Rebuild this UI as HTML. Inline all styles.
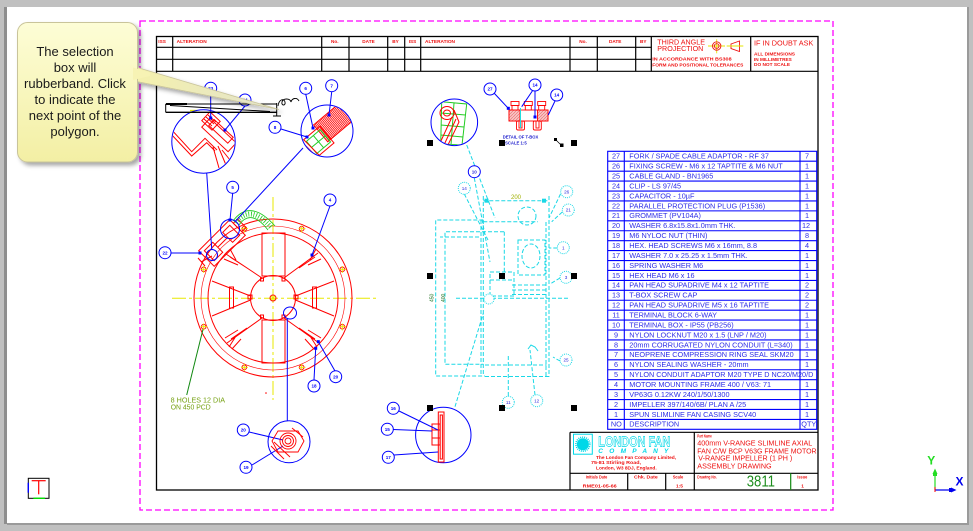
<!DOCTYPE html>
<html><head><meta charset="utf-8"><title>Drawing 3811</title>
<style>
html,body{margin:0;padding:0;background:#c0c0c0}
body{width:973px;height:531px;overflow:hidden}
svg{display:block}
text{font-family:"Liberation Sans",Arial,sans-serif}
</style></head><body>
<svg xmlns="http://www.w3.org/2000/svg" width="973" height="531" viewBox="0 0 973 531">
<defs>
<linearGradient id="tip" x1="0" y1="0" x2="0" y2="1"><stop offset="0" stop-color="#fdfdd6"/><stop offset="1" stop-color="#f3efa4"/></linearGradient>
<linearGradient id="ptr" x1="0" y1="0" x2="1" y2="0"><stop offset="0" stop-color="#f5f1ac"/><stop offset="1" stop-color="#e2e2cc"/></linearGradient>
<filter id="sh" x="-20%" y="-20%" width="140%" height="140%"><feDropShadow dx="3" dy="3" stdDeviation="2" flood-color="#000" flood-opacity="0.35"/></filter>
<clipPath id="c1"><circle cx="203.5" cy="141.5" r="31"/></clipPath>
<clipPath id="c2"><circle cx="327" cy="131" r="25.5"/></clipPath>
<clipPath id="c3"><circle cx="454.3" cy="122.3" r="22.8"/></clipPath>
<pattern id="hr" width="1.6" height="4" patternUnits="userSpaceOnUse"><line x1="0.4" y1="0" x2="0.4" y2="4" stroke="#ff0000" stroke-width="0.9"/></pattern>
<pattern id="pk" width="3" height="3" patternUnits="userSpaceOnUse"><rect width="3" height="3" fill="#f8c4c4"/><line x1="0" y1="3" x2="3" y2="0" stroke="#e86a6a" stroke-width="0.6"/></pattern>
</defs>

<!-- window frame -->
<rect width="973" height="531" fill="#c0c0c0"/>
<rect x="4" y="7" width="3" height="517" fill="#8e8e8e"/>
<rect x="7" y="7" width="960" height="516" fill="#ffffff"/>
<rect x="7" y="523" width="962" height="2" fill="#9a9a9a"/>
<rect x="967" y="7" width="2" height="518" fill="#9a9a9a"/>

<!-- magenta selection frame -->
<rect x="140" y="21" width="693" height="489" fill="none" stroke="#ff00ff" stroke-width="1.3" stroke-dasharray="6,3"/>

<!-- drawing border -->
<rect x="156.5" y="36.5" width="661.5" height="453.5" fill="none" stroke="#000" stroke-width="1.3"/>

<!-- revision table -->
<g stroke="#000" stroke-width="1.2">
<line x1="156" y1="47.3" x2="651.3" y2="47.3"/>
<line x1="156" y1="59.3" x2="651.3" y2="59.3"/>
<line x1="156" y1="71.3" x2="818" y2="71.3"/>
<line x1="172.7" y1="36" x2="172.7" y2="71.3"/>
<line x1="321.7" y1="36" x2="321.7" y2="71.3"/>
<line x1="349" y1="36" x2="349" y2="71.3"/>
<line x1="387.7" y1="36" x2="387.7" y2="71.3"/>
<line x1="404.7" y1="36" x2="404.7" y2="71.3"/>
<line x1="420.7" y1="36" x2="420.7" y2="71.3"/>
<line x1="570" y1="36" x2="570" y2="71.3"/>
<line x1="597.3" y1="36" x2="597.3" y2="71.3"/>
<line x1="635.7" y1="36" x2="635.7" y2="71.3"/>
<line x1="651.3" y1="36" x2="651.3" y2="71.3"/>
<line x1="750.7" y1="36" x2="750.7" y2="71.3"/>
</g>
<g fill="#ee1111" font-size="4.7" font-weight="bold">
<text x="158.3" y="42.8">ISS</text>
<text x="176.7" y="42.8" textLength="30" lengthAdjust="spacingAndGlyphs">ALTERATION</text>
<text x="331" y="42.8">No.</text>
<text x="362.3" y="42.8">DATE</text>
<text x="392.3" y="42.8">BY</text>
<text x="408.7" y="42.8">ISS</text>
<text x="425" y="42.8" textLength="30" lengthAdjust="spacingAndGlyphs">ALTERATION</text>
<text x="579.3" y="42.8">No.</text>
<text x="609" y="42.8">DATE</text>
<text x="640" y="42.8">BY</text>
</g>
<g fill="#ee1111">
<text x="657.3" y="44.3" font-size="7" textLength="47.7" lengthAdjust="spacingAndGlyphs">THIRD ANGLE</text>
<text x="657.3" y="50.8" font-size="7" textLength="46" lengthAdjust="spacingAndGlyphs">PROJECTION</text>
<text x="652.3" y="60.7" font-size="4.6" font-weight="bold" textLength="79.3" lengthAdjust="spacingAndGlyphs">IN ACCORDANCE WITH BS308</text>
<text x="652.3" y="66.7" font-size="4.6" font-weight="bold" textLength="91" lengthAdjust="spacingAndGlyphs">FORM AND POSITIONAL TOLERANCES</text>
<text x="754" y="45.7" font-size="7.2" textLength="59.3" lengthAdjust="spacingAndGlyphs">IF IN DOUBT ASK</text>
<text x="754" y="55.7" font-size="4.6" font-weight="bold" textLength="41" lengthAdjust="spacingAndGlyphs">ALL DIMENSIONS</text>
<text x="754" y="60.9" font-size="4.6" font-weight="bold" textLength="37.7" lengthAdjust="spacingAndGlyphs">IN MILLIMETRES</text>
<text x="754" y="66.2" font-size="4.6" font-weight="bold" textLength="36" lengthAdjust="spacingAndGlyphs">DO NOT SCALE</text>
</g>
<!-- projection symbol -->
<g fill="none">
<line x1="708" y1="46" x2="725" y2="46" stroke="#e6e600" stroke-width="0.9"/>
<line x1="716.7" y1="39.3" x2="716.7" y2="53.3" stroke="#e6e600" stroke-width="0.9"/>
<circle cx="716.7" cy="46" r="4.2" stroke="#ee1111" stroke-width="0.9"/>
<circle cx="716.7" cy="46" r="2.3" stroke="#ee1111" stroke-width="0.9"/>
<path d="M731,44 L739.5,41 L739.5,51.5 L731,48.5 Z" stroke="#ee1111" stroke-width="0.9"/>
<line x1="726.7" y1="46" x2="743.3" y2="46" stroke="#e6e600" stroke-width="0.9"/>
</g>

<!-- ============ LEFT FAN DRAWING ============ -->
<!-- yellow centre lines -->
<g stroke="#e8e800" stroke-width="1" fill="none">
<line x1="172" y1="298.3" x2="376" y2="298.3" stroke-dasharray="14,3,3,3"/>
<line x1="273" y1="197" x2="273" y2="400" stroke-dasharray="14,3,3,3"/>
</g>
<g stroke="#ff0000" stroke-width="1" fill="none">
<circle cx="273" cy="298" r="79"/>
<circle cx="273" cy="298" r="72" stroke-width="0.6"/>
<circle cx="273" cy="298" r="65"/>
<circle cx="273" cy="298" r="22.5"/>
<circle cx="273" cy="298" r="3"/>
<rect x="262" y="233" width="23" height="43"/>
<rect x="262" y="320" width="23" height="43"/>
<rect x="260.5" y="278" width="3" height="3"/>
<rect x="282" y="278" width="3" height="3"/>
<rect x="260.5" y="315" width="3" height="3"/>
<rect x="282" y="315" width="3" height="3"/>
<path d="M250.5,296 L212,281 M250.5,300 L212,316 M295.5,296 L334,281 M295.5,300 L334,316"/>
<rect x="229.5" y="287" width="4" height="21"/>
<rect x="312.5" y="287" width="4" height="21"/>
<rect x="248" y="295" width="4" height="4"/>
<rect x="294" y="295" width="4" height="4"/>
<!-- diagonal struts -->
<path d="M262,318 L227,343 M247,328 L231,339 M238,330 L225,338 M236,336 L229,347 M241,339 L232,349"/>
<path d="M284,318 L319,343 M299,328 L315,339 M308,330 L321,338 M310,336 L317,347 M305,339 L314,349"/>
<path d="M262,278 L226,254 M247,268 L230,257 M238,265 L224,259 M236,260 L230,249"/>
<path d="M284,278 L318,253 M299,268 L315,257 M308,265 L321,259 M310,260 L316,249"/>
<!-- holes -->
<circle cx="244.3" cy="228.7" r="2.3"/><circle cx="301.7" cy="228.7" r="2.3"/>
<circle cx="203.7" cy="269.3" r="2.3"/><circle cx="342.3" cy="269.3" r="2.3"/>
<circle cx="203.7" cy="326.7" r="2.3"/><circle cx="342.3" cy="326.7" r="2.3"/>
<circle cx="244.3" cy="367.3" r="2.3"/><circle cx="301.7" cy="367.3" r="2.3"/>
</g>
<g stroke="#e8e800" stroke-width="0.9">
<path d="M241,228.7h7M244.3,225.5v7M301.7,225.5v7M298.5,228.7h7M200.5,269.3h7M203.7,266v7M339,269.3h7M342.3,266v7M200.5,326.7h7M203.7,323.5v7M339,326.7h7M342.3,323.5v7M241,367.3h7M244.3,364v7M298.5,367.3h7M301.7,364v7"/>
<path d="M271,296l4,4M275,296l-4,4"/>
</g>
<!-- terminal box -->
<g stroke="#ff0000" stroke-width="1" fill="none" transform="rotate(-45 222 243)">
<rect x="200" y="232" width="44" height="22"/>
<rect x="204" y="236" width="12" height="14"/>
<rect x="230" y="236" width="10" height="14"/>
<line x1="216" y1="243" x2="230" y2="243"/>
<rect x="244" y="237" width="6" height="12"/>
</g>
<path d="M198,258 L205,266 M201,262 L212,256" stroke="#ff0000" fill="none"/>
<!-- green conduit -->
<g fill="none" stroke="#22cc22">
<path d="M233,221 Q250,198 275,226" stroke-width="0.9"/>
<path d="M239,225 Q251,208 268,230" stroke-width="0.9"/>
<path d="M236,223 Q250.5,203 271.5,228" stroke-width="5" stroke-dasharray="0.8,1.8"/>
</g>
<!-- left detail circle -->
<g clip-path="url(#c1)" stroke="#ff0000" fill="none" stroke-width="1">
<polyline points="170,128 191.7,151.7 205,138.3 217,150"/>
<polyline points="170,133 191.7,156 206.7,142.7 215,151"/>
<rect x="201" y="129" width="36" height="12" transform="rotate(43 219 135)"/>
<rect x="205" y="127" width="26" height="8" transform="rotate(43 219 135)"/>
<rect x="204" y="115" width="14" height="12" transform="rotate(43 211 121)"/>
<path d="M206,117 l8,7 M208,115 l8,7 M204,119 l8,7"/>
<path d="M213,147 L219,168 M218,146 L226,165 M222,150 L230,160"/>
</g>
<line x1="190" y1="110.5" x2="197" y2="110.5" stroke="#e8e800" stroke-width="1.3"/>
<!-- right detail circle -->
<g clip-path="url(#c2)">
<g transform="rotate(-40 330 132)">
<rect x="322" y="116" width="32" height="22" fill="url(#hr)" stroke="#ff0000"/>
<rect x="300" y="121" width="26" height="22" fill="none" stroke="#ff0000"/>
<rect x="306" y="124" width="18" height="16" fill="none" stroke="#22cc22"/>
<line x1="306" y1="132" x2="324" y2="132" stroke="#22cc22"/>
<line x1="315" y1="124" x2="315" y2="140" stroke="#22cc22"/>
<path d="M290,128 L300,128 M290,136 L300,136 M292,141 L300,141" stroke="#ff0000"/>
</g>
<path d="M300,140 L320,160 M304,140 L322,158" stroke="#ff0000" fill="none"/>
</g>
<!-- blue callouts left -->
<g stroke="#0000ff" fill="none" stroke-width="1">
<circle cx="203.5" cy="141.5" r="31.7"/>
<circle cx="327" cy="131" r="26"/>
<circle cx="230" cy="229" r="9.5"/>
<circle cx="212" cy="255" r="5.5"/>
<circle cx="289" cy="441.7" r="21"/>
<ellipse cx="290" cy="313" rx="6.5" ry="6"/>
<line x1="206.7" y1="173" x2="211.7" y2="249"/>
<line x1="303" y1="148" x2="235" y2="221.7"/>
<line x1="210.7" y1="94" x2="210.7" y2="118"/>
<line x1="245" y1="106" x2="225" y2="130"/>
<line x1="305.7" y1="94" x2="313" y2="128"/>
<line x1="331.7" y1="92" x2="329" y2="115"/>
<line x1="281" y1="129" x2="307" y2="137"/>
<line x1="232.7" y1="193" x2="230" y2="220"/>
<line x1="330" y1="206" x2="312" y2="255"/>
<line x1="171" y1="253" x2="200" y2="253"/>
<line x1="287.3" y1="318" x2="287.3" y2="421"/>
<line x1="335" y1="371" x2="318.3" y2="341.7"/>
<line x1="314" y1="380" x2="315.7" y2="348.3"/>
<line x1="249" y1="432" x2="283" y2="440"/>
<line x1="252" y1="465" x2="283" y2="446"/>
</g>
<g fill="#0000ff">
<rect x="209.2" y="116.5" width="3" height="3"/><rect x="223.5" y="128.5" width="3" height="3"/>
<rect x="311.5" y="126.5" width="3" height="3"/><rect x="327.5" y="113.5" width="3" height="3"/>
<rect x="305.5" y="135.5" width="3" height="3"/><rect x="228.5" y="218.5" width="3" height="3"/>
<rect x="310.5" y="253.5" width="3" height="3"/><rect x="198.5" y="251.5" width="3" height="3"/>
<rect x="316.8" y="340.2" width="3" height="3"/><rect x="314.2" y="346.8" width="3" height="3"/>
</g>
<!-- red hub detail in bottom circle -->
<g stroke="#ff0000" fill="none" stroke-width="0.9">
<circle cx="288" cy="441" r="3"/><circle cx="288" cy="441" r="5.5"/><circle cx="288" cy="441" r="8"/>
<path d="M278,431 L298,431 L304,441 L298,452 L278,452 L272,441 Z"/>
<path d="M271,446 L284,459 M274,442 L290,457 M292,428 L303,437"/>
</g>
<!-- balloons left -->
<g stroke="#0000ff" fill="#fff" stroke-width="1">
<circle cx="210.7" cy="88.3" r="6"/><circle cx="245" cy="100" r="6"/>
<circle cx="305.7" cy="88.3" r="6"/><circle cx="331.7" cy="85.7" r="6"/>
<circle cx="275" cy="127.3" r="6"/><circle cx="232.7" cy="187.3" r="6"/>
<circle cx="330" cy="200" r="6"/><circle cx="165" cy="252.7" r="6"/>
<circle cx="335.7" cy="376.7" r="6"/><circle cx="314" cy="386" r="6"/>
<circle cx="243.3" cy="430" r="6"/><circle cx="246" cy="467.3" r="6"/>
</g>
<g fill="#0000ff" font-size="4.6" text-anchor="middle" font-weight="bold">
<text x="210.7" y="90">23</text><text x="245" y="101.7">24</text>
<text x="305.7" y="90">6</text><text x="331.7" y="87.4">7</text>
<text x="275" y="129">8</text><text x="232.7" y="189">5</text>
<text x="330" y="201.7">4</text><text x="165" y="254.4">22</text>
<text x="335.7" y="378.4">20</text><text x="314" y="387.7">18</text>
<text x="243.3" y="431.7">20</text><text x="246" y="469">19</text>
</g>
<!-- 8 holes note -->
<line x1="186.7" y1="395" x2="203" y2="329.3" stroke="#118811" stroke-width="1"/>
<g fill="#74a010" font-size="7">
<text x="170.7" y="402.7" textLength="54.3" lengthAdjust="spacingAndGlyphs">8 HOLES 12 DIA</text>
<text x="170.7" y="409.5" textLength="40" lengthAdjust="spacingAndGlyphs">ON 450 PCD</text>
</g>
<circle cx="266" cy="393" r="0.8" fill="#ff0000"/>

<!-- rubberband lines -->
<g stroke="#000" fill="none">
<line x1="165.7" y1="104" x2="276.7" y2="104" stroke-width="1"/>
<line x1="166" y1="104" x2="187" y2="104" stroke-width="2"/>
<line x1="165.7" y1="112.3" x2="276.7" y2="112.3" stroke-width="1.4"/>
<line x1="165.7" y1="104" x2="165.7" y2="112.3" stroke-width="1"/>
<line x1="170" y1="105.5" x2="270" y2="111.5" stroke-width="1"/>
<line x1="276.7" y1="103" x2="276.7" y2="116" stroke-width="1"/>
<line x1="273" y1="116" x2="281" y2="116" stroke-width="1"/>
<path d="M278,106 C279,99 284,98 285,102 C286,106 281,106 282,102 C283,98 290,98 291,102 C292,98 297,97 299,101" stroke-width="0.9"/>
</g>

<!-- ============ CENTRE DRAWING ============ -->
<!-- top-left detail circle -->
<g clip-path="url(#c3)" fill="none">
<path d="M441.7,101.7 L466.7,104 L462,145 L440.7,144 Z M441,113 L465.5,115 M440.8,125 L464,127 M440.7,135 L463,137 M454,103 L451,145" stroke="#22cc22"/>
<ellipse cx="447" cy="113" rx="7" ry="6.5" stroke="#ff0000"/>
<ellipse cx="447" cy="113" rx="3.5" ry="3" stroke="#ff0000"/>
<path d="M452,117 L440,143 M456,119 L444,145 M454,110 L459,122 L447,147" stroke="#ff0000"/>
</g>
<circle cx="454.3" cy="122.3" r="23.3" fill="none" stroke="#0000ff"/>
<!-- T-box detail -->
<g stroke="#ff0000" stroke-width="0.9">
<rect x="509" y="110" width="39" height="11" fill="#fff"/>
<rect x="509" y="110" width="11" height="11" fill="url(#pk)"/>
<rect x="537.5" y="110" width="10.5" height="11" fill="url(#pk)"/>
<rect x="511" y="101.5" width="8" height="4" fill="none"/><rect x="512" y="105.5" width="6" height="4.5" fill="none"/>
<rect x="524.3" y="101.5" width="8" height="4" fill="none"/><rect x="525.3" y="105.5" width="6" height="4.5" fill="none"/>
<rect x="537.7" y="101.5" width="8" height="4" fill="none"/><rect x="538.7" y="105.5" width="6" height="4.5" fill="none"/>
<rect x="516.5" y="121" width="8" height="9" rx="1.5" fill="none"/>
<rect x="533.3" y="121" width="8" height="9" rx="1.5" fill="none"/>
<rect x="519" y="121" width="3" height="7" fill="none"/>
<rect x="536" y="121" width="3" height="7" fill="none"/>
</g>
<line x1="520.5" y1="108" x2="520.5" y2="128" stroke="#22dddd"/>
<g stroke="#0000ff" fill="none">
<line x1="494" y1="93" x2="508.3" y2="108.3"/>
<line x1="535" y1="91" x2="535" y2="117"/>
<line x1="533" y1="90" x2="521.7" y2="106.7"/>
<line x1="555" y1="101" x2="548.3" y2="115"/>
</g>
<rect x="533.5" y="115.5" width="3" height="3" fill="#0000ff"/>
<rect x="506.8" y="106.8" width="3" height="3" fill="#0000ff"/>
<g stroke="#0000ff" fill="#fff">
<circle cx="490" cy="89" r="6"/><circle cx="535" cy="85" r="6"/><circle cx="556.7" cy="95" r="6"/>
</g>
<g fill="#0000ff" font-size="4.6" text-anchor="middle" font-weight="bold">
<text x="490" y="90.7">27</text><text x="535" y="86.7">14</text><text x="556.7" y="96.7">14</text>
</g>
<g fill="#1a1acc" font-size="4.8" font-weight="bold">
<text x="502.7" y="138.3" textLength="35.6" lengthAdjust="spacingAndGlyphs">DETAIL OF T-BOX</text>
<text x="505" y="144.3" textLength="21.7" lengthAdjust="spacingAndGlyphs">SCALE 1:5</text>
</g>

<!-- cyan side view -->
<g stroke="#1ad8e6" fill="none" stroke-width="1" stroke-dasharray="4,2">
<line x1="483.3" y1="200.7" x2="549" y2="200.7"/>
<line x1="483.3" y1="196" x2="483.3" y2="376"/>
<line x1="549" y1="196" x2="549" y2="376.7"/>
<line x1="481" y1="220" x2="481" y2="376"/>
<line x1="546" y1="222" x2="546" y2="376"/>
<polyline points="483.3,220 435.7,220 435.7,376 485,376"/>
<polyline points="504,231.7 445,231.7 445,364.3 483.3,364.3"/>
<line x1="504.3" y1="231.7" x2="504.3" y2="275"/>
<line x1="483.3" y1="221.7" x2="538" y2="221.7"/>
<line x1="456" y1="298.3" x2="570" y2="298.3"/>
<line x1="485" y1="365" x2="546.7" y2="365"/>
<line x1="485" y1="376.5" x2="549" y2="376.5"/>
<circle cx="527" cy="216" r="9"/>
<rect x="518" y="240" width="27" height="35"/>
<ellipse cx="531" cy="256" rx="9" ry="12"/>
<rect x="490" y="272" width="24" height="24"/>
<line x1="512" y1="285" x2="546" y2="285"/>
<line x1="512" y1="290" x2="546" y2="290"/>
<line x1="512" y1="294.5" x2="546" y2="294.5"/>
<line x1="490" y1="280" x2="514" y2="280"/>
<line x1="466.7" y1="145" x2="495" y2="218"/>
<line x1="474.3" y1="178" x2="490" y2="262"/>
<line x1="464.3" y1="194" x2="488" y2="240"/>
<line x1="560.5" y1="194" x2="549" y2="218"/>
<line x1="562.3" y1="212" x2="551.7" y2="221.7"/>
<line x1="557.3" y1="248" x2="549" y2="248"/>
<line x1="560" y1="278" x2="550" y2="284"/>
<line x1="560" y1="361" x2="553" y2="357"/>
<line x1="508.3" y1="396" x2="508.3" y2="355"/>
<line x1="535" y1="395" x2="530" y2="350"/>
<line x1="455" y1="406.7" x2="483.3" y2="313.3"/>
<line x1="479" y1="237" x2="440" y2="237"/>
</g>
<path d="M528,349 l3,-4 l4,2 l3,4" stroke="#1ad8e6" fill="none"/>
<rect x="484.5" y="198.7" width="4" height="4" fill="#1ad8e6"/>
<rect x="542" y="198.7" width="4" height="4" fill="#1ad8e6"/>
<text x="516" y="199" font-size="6" fill="#a0b000" text-anchor="middle">200</text>
<g fill="#207020" font-size="5">
<text transform="translate(433.5 302) rotate(-90)">450</text>
<text transform="translate(445 302) rotate(-90)">400</text>
</g>
<!-- cyan dotted balloons -->
<g stroke="#1ad8e6" fill="#fff" stroke-dasharray="1,1">
<circle cx="464.3" cy="188.3" r="6"/><circle cx="566.7" cy="191.7" r="6"/>
<circle cx="568.3" cy="210" r="6"/><circle cx="563.3" cy="247.7" r="6"/>
<circle cx="566" cy="277.3" r="6"/><circle cx="566" cy="360" r="6"/>
<circle cx="508.3" cy="402.3" r="6"/><circle cx="536.7" cy="400.7" r="6"/>
<circle cx="489" cy="299" r="5"/>
</g>
<circle cx="474.3" cy="171.7" r="6" stroke="#0000ff" fill="#fff"/>
<g fill="#2a2add" font-size="4.6" text-anchor="middle">
<text x="474.3" y="173.4" font-weight="bold">10</text>
<text x="464.3" y="190">14</text><text x="566.7" y="193.4">26</text>
<text x="568.3" y="211.7">21</text><text x="563.3" y="249.4">1</text>
<text x="566" y="279">3</text><text x="566" y="361.7">25</text>
<text x="508.3" y="404">11</text><text x="536.7" y="402.4">12</text>
</g>

<!-- bottom-centre detail -->
<circle cx="443.3" cy="435" r="27.7" fill="none" stroke="#0000ff"/>
<g stroke="#ff0000" fill="none" stroke-width="1">
<rect x="438.3" y="412" width="5.7" height="50"/>
<rect x="440.2" y="415" width="2.2" height="44"/>
<rect x="432" y="424" width="8" height="21"/>
<line x1="432" y1="430" x2="440" y2="430"/>
<line x1="432" y1="438" x2="440" y2="438"/>
</g>
<g stroke="#0000ff" fill="none">
<line x1="399" y1="411" x2="438" y2="430"/>
<line x1="393.3" y1="429.5" x2="432" y2="431"/>
<line x1="394" y1="455" x2="438" y2="452"/>
</g>
<g stroke="#0000ff" fill="#fff">
<circle cx="393.3" cy="408.3" r="6"/><circle cx="387.3" cy="429.3" r="6"/><circle cx="388.3" cy="457.3" r="6"/>
</g>
<g fill="#0000ff" font-size="4.6" text-anchor="middle" font-weight="bold">
<text x="393.3" y="410">16</text><text x="387.3" y="431">15</text><text x="388.3" y="459">17</text>
</g>

<!-- selection handles -->
<g fill="#000">
<rect x="427" y="140" width="6" height="6"/><rect x="499" y="140" width="6" height="6"/><rect x="571" y="140" width="6" height="6"/>
<rect x="427" y="273" width="6" height="6"/><rect x="499" y="273" width="6" height="6"/><rect x="571" y="273" width="6" height="6"/>
<rect x="427" y="405" width="6" height="6"/><rect x="499" y="405" width="6" height="6"/><rect x="571" y="405" width="6" height="6"/>
<rect x="554" y="138" width="3" height="3"/><rect x="560" y="143.5" width="3.5" height="3.5"/>
</g>
<line x1="556" y1="140" x2="561" y2="145" stroke="#000" stroke-width="0.7"/>

<!-- ============ PARTS LIST ============ -->
<g stroke="#0000ff" stroke-width="1.1" fill="none">
<rect x="607.7" y="151.3" width="209" height="278"/>
<line x1="624.3" y1="151.3" x2="624.3" y2="429.3"/>
<line x1="800" y1="151.3" x2="800" y2="429.3"/>
<path d="M607.7,161.23H816.7M607.7,171.16H816.7M607.7,181.09H816.7M607.7,191.02H816.7M607.7,200.95H816.7M607.7,210.88H816.7M607.7,220.81H816.7M607.7,230.74H816.7M607.7,240.67H816.7M607.7,250.6H816.7M607.7,260.53H816.7M607.7,270.46H816.7M607.7,280.39H816.7M607.7,290.32H816.7M607.7,300.25H816.7M607.7,310.18H816.7M607.7,320.11H816.7M607.7,330.04H816.7M607.7,339.97H816.7M607.7,349.9H816.7M607.7,359.83H816.7M607.7,369.76H816.7M607.7,379.69H816.7M607.7,389.62H816.7M607.7,399.55H816.7M607.7,409.48H816.7M607.7,419.41H816.7"/>
</g>
<g fill="#2e2ee6" font-size="7.3">
<g text-anchor="middle">
<text x="616" y="158.6">27</text><text x="616" y="168.5">26</text><text x="616" y="178.5">25</text><text x="616" y="188.4">24</text>
<text x="616" y="198.3">23</text><text x="616" y="208.3">22</text><text x="616" y="218.2">21</text><text x="616" y="228.1">20</text>
<text x="616" y="238">19</text><text x="616" y="248">18</text><text x="616" y="257.9">17</text><text x="616" y="267.8">16</text>
<text x="616" y="277.8">15</text><text x="616" y="287.7">14</text><text x="616" y="297.6">13</text><text x="616" y="307.6">12</text>
<text x="616" y="317.5">11</text><text x="616" y="327.4">10</text><text x="616" y="337.3">9</text><text x="616" y="347.3">8</text>
<text x="616" y="357.2">7</text><text x="616" y="367.1">6</text><text x="616" y="377.1">5</text><text x="616" y="387">4</text>
<text x="616" y="396.9">3</text><text x="616" y="406.9">2</text><text x="616" y="416.8">1</text><text x="616.3" y="426.7">NO</text>
<text x="807" y="158.6">7</text><text x="807" y="168.5">1</text><text x="807" y="178.5">1</text><text x="807" y="188.4">1</text>
<text x="807" y="198.3">1</text><text x="807" y="208.3">1</text><text x="807" y="218.2">1</text><text x="806" y="228.1">12</text>
<text x="807" y="238">8</text><text x="807" y="248">4</text><text x="807" y="257.9">1</text><text x="807" y="267.8">1</text>
<text x="807" y="277.8">1</text><text x="807" y="287.7">2</text><text x="807" y="297.6">2</text><text x="807" y="307.6">2</text>
<text x="807" y="317.5">1</text><text x="807" y="327.4">1</text><text x="807" y="337.3">1</text><text x="807" y="347.3">1</text>
<text x="807" y="357.2">1</text><text x="807" y="367.1">1</text><text x="807" y="387">1</text>
<text x="807" y="396.9">1</text><text x="807" y="406.9">1</text><text x="807" y="416.8">1</text><text x="808.8" y="426.7">QTY</text>
</g>
<text x="629.3" y="158.6">FORK / SPADE CABLE ADAPTOR - RF 37</text>
<text x="629.3" y="168.5">FIXING SCREW - M6 x 12 TAPTITE &amp; M6 NUT</text>
<text x="629.3" y="178.5">CABLE GLAND - BN1965</text>
<text x="629.3" y="188.4">CLIP - LS 97/45</text>
<text x="629.3" y="198.3">CAPACITOR - 10µF</text>
<text x="629.3" y="208.3">PARALLEL PROTECTION PLUG (P1536)</text>
<text x="629.3" y="218.2">GROMMET (PV104A)</text>
<text x="629.3" y="228.1">WASHER 6.8x15.8x1.0mm THK.</text>
<text x="629.3" y="238">M6 NYLOC NUT (THIN)</text>
<text x="629.3" y="248">HEX. HEAD SCREWS M6 x 16mm, 8.8</text>
<text x="629.3" y="257.9">WASHER 7.0 x 25.25 x 1.5mm THK.</text>
<text x="629.3" y="267.8">SPRING WASHER M6</text>
<text x="629.3" y="277.8">HEX HEAD M6 x 16</text>
<text x="629.3" y="287.7">PAN HEAD SUPADRIVE M4 x 12 TAPTITE</text>
<text x="629.3" y="297.6">T-BOX SCREW CAP</text>
<text x="629.3" y="307.6">PAN HEAD SUPADRIVE M5 x 16 TAPTITE</text>
<text x="629.3" y="317.5">TERMINAL BLOCK 6-WAY</text>
<text x="629.3" y="327.4">TERMINAL BOX - IP55 (PB256)</text>
<text x="629.3" y="337.3">NYLON LOCKNUT M20 x 1.5  (LNP / M20)</text>
<text x="629.3" y="347.3">20mm CORRUGATED NYLON CONDUIT (L=340)</text>
<text x="629.3" y="357.2">NEOPRENE COMPRESSION RING SEAL SKM20</text>
<text x="629.3" y="367.1">NYLON SEALING WASHER - 20mm</text>
<text x="629.3" y="377.1" textLength="184" lengthAdjust="spacingAndGlyphs">NYLON CONDUIT ADAPTOR  M20 TYPE D  NC20/M20/D</text>
<text x="629.3" y="387">MOTOR MOUNTING FRAME 400 / V63: 71</text>
<text x="629.3" y="396.9">VP63G 0.12KW 240/1/50/1300</text>
<text x="629.3" y="406.9">IMPELLER 397/140/6B/ PLAN A /25</text>
<text x="629.3" y="416.8">SPUN SLIMLINE FAN CASING SCV40</text>
<text x="629.3" y="426.7">DESCRIPTION</text>
</g>

<!-- ============ TITLE BLOCK ============ -->
<g stroke="#000" stroke-width="1.2" fill="none">
<line x1="570" y1="432.3" x2="818" y2="432.3"/>
<line x1="570" y1="432.3" x2="570" y2="490"/>
<line x1="570" y1="473.3" x2="818" y2="473.3"/>
<line x1="694.3" y1="432.3" x2="694.3" y2="490"/>
<line x1="627.7" y1="473.3" x2="627.7" y2="490"/>
<line x1="665.7" y1="473.3" x2="665.7" y2="490"/>
</g>
<line x1="790.7" y1="473.3" x2="790.7" y2="490" stroke="#118811" stroke-width="1.2"/>
<!-- logo -->
<rect x="573.5" y="434.2" width="18.8" height="20" fill="none" stroke="#00d8e8" stroke-width="1"/>
<circle cx="582.9" cy="444.2" r="6" fill="#00d8e8"/>
<circle cx="582.9" cy="444.2" r="7" fill="none" stroke="#00d8e8" stroke-width="1.6" stroke-dasharray="1,1"/>
<text x="598.3" y="446.5" font-size="15" font-weight="bold" fill="#fff" stroke="#00d8e8" stroke-width="0.7" textLength="72" lengthAdjust="spacingAndGlyphs">LONDON FAN</text>
<text x="598.3" y="453" font-size="6.5" font-weight="bold" font-style="italic" fill="#00d8e8" textLength="70" lengthAdjust="spacing">C O M P A N Y</text>
<g fill="#ee1111" font-size="4.8" font-weight="bold">
<text x="596" y="459" textLength="80" lengthAdjust="spacingAndGlyphs">The London Fan Company Limited,</text>
<text x="591" y="464.2" textLength="50" lengthAdjust="spacingAndGlyphs">75-81 Stirling Road,</text>
<text x="596" y="469.4" textLength="60.7" lengthAdjust="spacingAndGlyphs">London, W3 8DJ, England.</text>
<text x="697.3" y="437.3" textLength="14.4" lengthAdjust="spacingAndGlyphs">Part Name</text>
</g>
<g fill="#ee1111" font-size="7.4">
<text x="697.3" y="445.7" textLength="115" lengthAdjust="spacingAndGlyphs">400mm V-RANGE SLIMLINE AXIAL</text>
<text x="697.3" y="453.3" textLength="119.3" lengthAdjust="spacingAndGlyphs">FAN C/W BCP V63G FRAME MOTOR</text>
<text x="698.3" y="460.7" textLength="94" lengthAdjust="spacingAndGlyphs">V-RANGE IMPELLER (1 PH )</text>
<text x="697.3" y="468.3" textLength="74.3" lengthAdjust="spacingAndGlyphs">ASSEMBLY DRAWING</text>
</g>
<g fill="#ee1111" font-size="4.8" font-weight="bold">
<text x="585.7" y="478.3" textLength="21.6" lengthAdjust="spacingAndGlyphs">Initials Date</text>
<text x="582.7" y="487.7" textLength="34" lengthAdjust="spacingAndGlyphs">RME01-05-66</text>
<text x="634" y="478.3" textLength="23.7" lengthAdjust="spacingAndGlyphs">Chk. Date</text>
<text x="672.7" y="478.3" textLength="10.6" lengthAdjust="spacingAndGlyphs">Scale</text>
<text x="676" y="487.7">1:5</text>
<text x="697.3" y="478.3" textLength="19.4" lengthAdjust="spacingAndGlyphs">Drawing No.</text>
<text x="797.3" y="478.3" textLength="10" lengthAdjust="spacingAndGlyphs">Issue</text>
<text x="801.3" y="487.7">1</text>
</g>
<text x="746.7" y="486.7" font-size="16" fill="#1c8c1c" textLength="28.3" lengthAdjust="spacingAndGlyphs">3811</text>

<!-- ============ UCS icons ============ -->
<rect x="28.3" y="478.3" width="20.7" height="20" fill="none" stroke="#000" stroke-width="1"/>
<line x1="31.7" y1="480.7" x2="45.7" y2="480.7" stroke="#ff0000" stroke-width="1.2"/>
<line x1="38.7" y1="480.7" x2="38.7" y2="494.3" stroke="#ff0000" stroke-width="1.2"/>
<line x1="28.3" y1="482.7" x2="28.3" y2="492.7" stroke="#0000ff" stroke-width="1.4"/>
<line x1="33.3" y1="498.3" x2="45" y2="498.3" stroke="#00dd00" stroke-width="1.4"/>

<line x1="935" y1="490" x2="935" y2="472" stroke="#22dd22" stroke-width="1.2"/>
<path d="M932.5,474 L935,468.5 L937.5,474 Z M933,474 h4 v2 h-4 Z" fill="#22dd22"/>
<line x1="935" y1="490" x2="953" y2="490" stroke="#0000ee" stroke-width="1.2"/>
<path d="M951,487.5 L956.5,490 L951,492.5 Z M949,488 v4 h2 v-4 Z" fill="#0000ee"/>
<line x1="935" y1="487" x2="935" y2="492" stroke="#ff0000" stroke-width="1"/>
<text x="931.3" y="464.5" font-size="12" font-weight="bold" fill="#22dd22" text-anchor="middle">Y</text>
<text x="959.5" y="485.5" font-size="12" font-weight="bold" fill="#0000ee" text-anchor="middle">X</text>

<!-- ============ TOOLTIP ============ -->
<g filter="url(#sh)">
<polygon points="134,66.5 279,109.5 134,81" fill="url(#ptr)" stroke="#c9c49a" stroke-width="0.8"/>
<rect x="17.5" y="22.5" width="120" height="139.5" rx="10" ry="10" fill="url(#tip)" stroke="#c9c49a" stroke-width="1"/>
</g>
<polygon points="133,67.5 150,72.5 150,76 133,80" fill="#f7f3b4"/>
<g font-size="13" fill="#1a1a1a" text-anchor="middle">
<text x="75" y="56">The selection</text>
<text x="75" y="72">box will</text>
<text x="75" y="88">rubberband. Click</text>
<text x="75" y="104">to indicate the</text>
<text x="75" y="120">next point of the</text>
<text x="75" y="136">polygon.</text>
</g>
</svg>
</body></html>
